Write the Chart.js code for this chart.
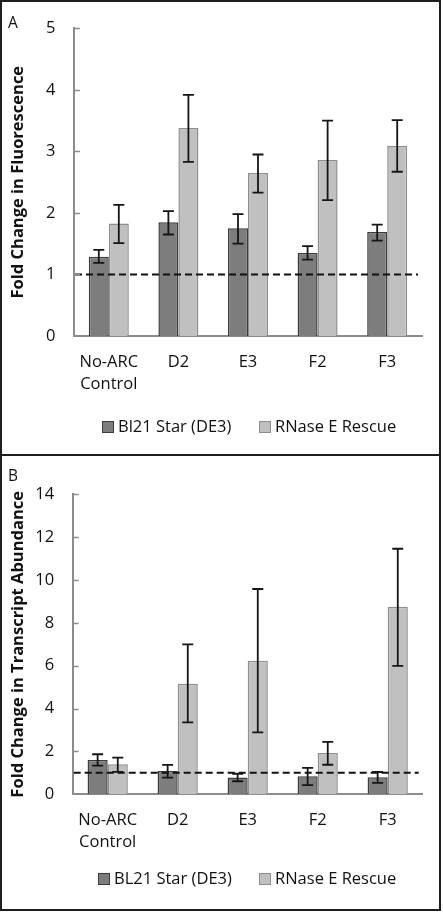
<!DOCTYPE html>
<html>
<head>
<meta charset="utf-8">
<script src="https://cdn.jsdelivr.net/npm/chart.js@4/dist/chart.umd.min.js"></script>
<style>
html,body{margin:0;padding:0;background:#fff;}
#page{position:relative;width:443px;height:912px;overflow:hidden;font-family:"Open Sans",sans-serif;color:#111;}
canvas{position:absolute;left:0;}
.frame{position:absolute;left:0;top:0;width:441px;height:911px;border:2px solid #1e1e1e;box-sizing:border-box;}
.sep{position:absolute;left:0;top:454px;width:441px;height:2px;background:#1e1e1e;}
.tag{position:absolute;left:8px;font-size:15.5px;line-height:18px;}
.leg{position:absolute;font-size:16.5px;line-height:18px;white-space:nowrap;}
.leg i{display:inline-block;width:10px;height:10px;border:1px solid;margin-right:4px;vertical-align:-1px;}
</style>
</head>
<body>
<div id="page">
  <canvas id="chartA" width="443" height="455" style="top:0"></canvas>
  <canvas id="chartB" width="443" height="457" style="top:455px"></canvas>
  <div class="frame"></div>
  <div class="sep"></div>
  <div class="tag" style="top:13px">A</div>
  <div class="tag" style="top:466px">B</div>
  <div id="legA"></div>
  <div id="legB"></div>
</div>
<script>
const FONT = '"Open Sans", sans-serif';
const TEXT = '#111';
const AXIS = '#8c8c8c';

const categories = [['No-ARC', 'Control'], 'D2', 'E3', 'F2', 'F3'];

// panel A: fold change in fluorescence
const fluorNames = ['Bl21 Star (DE3)', 'RNase E Rescue'];
const fluorBl21 = [1.29, 1.85, 1.75, 1.35, 1.69];
const fluorBl21Hi = [1.40, 2.03, 1.98, 1.46, 1.81];
const fluorBl21Lo = [1.19, 1.65, 1.50, 1.24, 1.55];
const fluorRescue = [1.83, 3.38, 2.65, 2.86, 3.09];
const fluorRescueHi = [2.13, 3.92, 2.95, 3.50, 3.51];
const fluorRescueLo = [1.51, 2.83, 2.33, 2.21, 2.67];
const fluorTicks = {min: 0, max: 5, step: 1};

// panel B: fold change in transcript abundance
const transNames = ['BL21 Star (DE3)', 'RNase E Rescue'];
const transBl21 = [1.60, 1.09, 0.78, 0.84, 0.79];
const transBl21Hi = [1.87, 1.37, 0.96, 1.23, 1.04];
const transBl21Lo = [1.34, 0.78, 0.61, 0.43, 0.53];
const transRescue = [1.40, 5.16, 6.23, 1.93, 8.75];
const transRescueHi = [1.71, 7.00, 9.58, 2.45, 11.46];
const transRescueLo = [1.05, 3.36, 2.89, 1.38, 5.99];
const transTicks = {min: 0, max: 14, step: 2};

const baseline = 1;

const darkFill = '#7d7d7d', darkEdge = '#3c3c3c';
const lightFill = '#c0c0c0', lightEdge = '#8e8e8e';

const errorBars = {
  id: 'errorBars',
  afterDatasetsDraw(chart){
    const {ctx, scales:{y}} = chart;
    // dashed reference line at fold change 1
    const yb = y.getPixelForValue(baseline);
    ctx.save();
    ctx.strokeStyle = '#111';
    ctx.lineWidth = 2;
    ctx.setLineDash([7, 4]);
    ctx.beginPath();
    ctx.moveTo(chart.chartArea.left + 1, yb);
    ctx.lineTo(chart.chartArea.right - 4, yb);
    ctx.stroke();
    ctx.setLineDash([]);
    ctx.strokeStyle = '#151515';
    ctx.lineWidth = 1.8;
    chart.data.datasets.forEach((ds, d) => {
      chart.getDatasetMeta(d).data.forEach((bar, i) => {
        const hi = y.getPixelForValue(ds.errHi[i]);
        const lo = y.getPixelForValue(ds.errLo[i]);
        ctx.beginPath();
        ctx.moveTo(bar.x, hi); ctx.lineTo(bar.x, lo);
        ctx.moveTo(bar.x - 5.5, hi); ctx.lineTo(bar.x + 5.5, hi);
        ctx.moveTo(bar.x - 5.5, lo); ctx.lineTo(bar.x + 5.5, lo);
        ctx.stroke();
      });
    });
    ctx.restore();
  },
  afterDraw(chart){
    // short inward tick marks on the value axis
    const {ctx, scales:{y}} = chart;
    ctx.save();
    ctx.strokeStyle = AXIS;
    ctx.lineWidth = 1.5;
    y.ticks.forEach(t => {
      if (t.value === 0) return;
      const py = Math.round(y.getPixelForValue(t.value)) + 0.5;
      ctx.beginPath();
      ctx.moveTo(y.right, py); ctx.lineTo(y.right + 6, py);
      ctx.stroke();
    });
    ctx.restore();
  }
};

function makeChart(id, names, vals, ticks, title, geom){
  const sets = [
    {label: names[0], data: vals[0], errHi: vals[1], errLo: vals[2], backgroundColor: darkFill, borderColor: darkEdge},
    {label: names[1], data: vals[3], errHi: vals[4], errLo: vals[5], backgroundColor: lightFill, borderColor: lightEdge}
  ];
  sets.forEach(s => { s.borderWidth = 1.5; s.categoryPercentage = 0.575; s.barPercentage = 1; });
  return new Chart(document.getElementById(id), {
    type: 'bar',
    data: {labels: categories, datasets: sets},
    options: {
      responsive: false,
      animation: false,
      devicePixelRatio: 1,
      layout: {padding: {top: geom.top, right: geom.right, bottom: geom.bottom, left: 0}},
      plugins: {legend: {display: false}, tooltip: {enabled: false}},
      scales: {
        x: {
          offset: true,
          grid: {display: false, drawTicks: false},
          border: {color: AXIS, width: 2},
          ticks: {color: TEXT, padding: 15, autoSkip: false, maxRotation: 0, font: {family: FONT, size: 16.5, lineHeight: 1.34}},
          afterFit(s){ s.height = 80; }
        },
        y: {
          min: ticks.min, max: ticks.max,
          grid: {display: false, drawTicks: false},
          border: {color: AXIS, width: 2},
          ticks: {stepSize: ticks.step, color: TEXT, padding: 18.5, font: {family: FONT, size: 16.5}},
          title: {display: true, text: title, color: '#111', padding: {top: 8, bottom: 0}, font: {family: FONT, size: 16.5, weight: 'bold'}},
          afterFit(s){ s.width = geom.left; }
        }
      }
    },
    plugins: [errorBars]
  });
}

function makeLegend(id, names, top, lefts){
  const el = document.getElementById(id);
  const fills = [[darkFill, darkEdge], [lightFill, lightEdge]];
  el.innerHTML = names.map((n, i) =>
    `<div class="leg" style="top:${top}px;left:${lefts[i]}px"><i style="background:${fills[i][0]};border-color:${fills[i][1]}"></i>${n}</div>`
  ).join('');
}

makeChart('chartA', fluorNames,
  [fluorBl21, fluorBl21Hi, fluorBl21Lo, fluorRescue, fluorRescueHi, fluorRescueLo],
  fluorTicks, 'Fold Change in Fluorescence',
  {top: 26, right: 21, bottom: 39, left: 74});
makeChart('chartB', transNames,
  [transBl21, transBl21Hi, transBl21Lo, transRescue, transRescueHi, transRescueLo],
  transTicks, 'Fold Change in Transcript Abundance',
  {top: 39.3, right: 20.3, bottom: 37.7, left: 72.7});
makeLegend('legA', fluorNames, 417, [102, 259]);
makeLegend('legB', transNames, 869, [98, 259]);
</script>
</body>
</html>
